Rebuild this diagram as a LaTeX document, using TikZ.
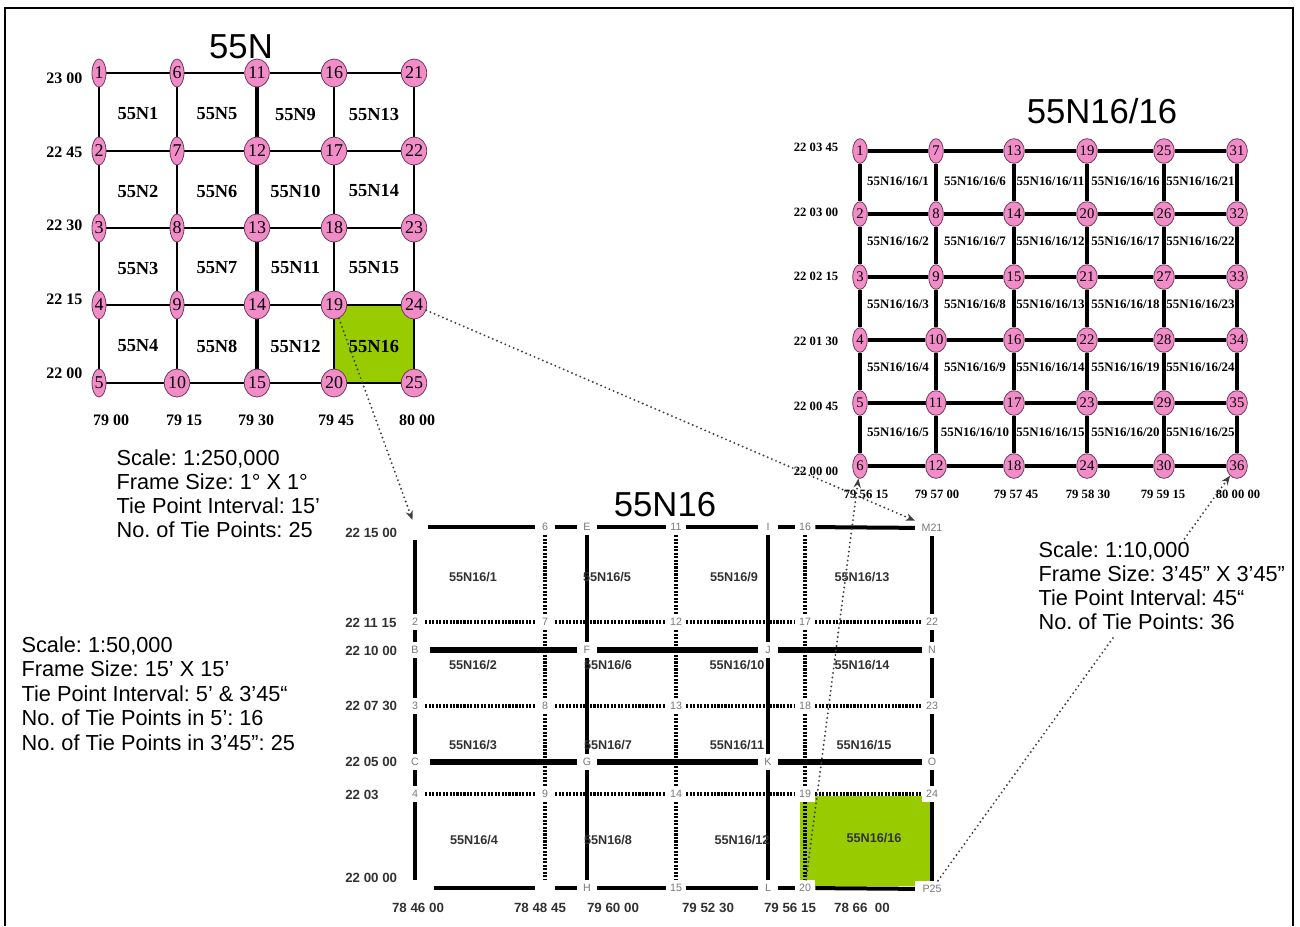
\documentclass[tikz,border=0pt]{standalone}
\usepackage{fontspec}
\setmainfont{Liberation Serif}
\setsansfont{Liberation Sans}
\usetikzlibrary{shapes.geometric,arrows.meta}
\pgfdeclarelayer{background}
\pgfsetlayers{background,main}
\definecolor{pinkf}{RGB}{242,140,200}
\definecolor{pinkd}{RGB}{110,60,90}
\definecolor{leaf}{RGB}{153,204,0}
\definecolor{labgray}{RGB}{120,120,120}
\definecolor{txtgray}{RGB}{50,50,50}
\begin{document}
\frenchspacing
\begin{tikzpicture}[x=0.75pt,y=-0.75pt,
  bigpt/.style={ellipse,draw=pinkd,line width=0.6pt,fill=pinkf,inner sep=0pt,minimum height=21pt,minimum width=10.5pt,font=\fontsize{13.5}{14}\selectfont},
  smallpt/.style={ellipse,draw=pinkd,line width=0.6pt,fill=pinkf,inner sep=0pt,minimum height=18.5pt,minimum width=11pt,font=\fontsize{11}{12}\selectfont},
  cellA/.style={font=\bfseries\fontsize{13.8}{14}\selectfont},
  cellB/.style={font=\bfseries\fontsize{9.7}{10}\selectfont,inner sep=0pt},
  cellC/.style={font=\sffamily\bfseries\fontsize{9.5}{10}\selectfont,text=txtgray},
  latA/.style={font=\bfseries\fontsize{12}{12}\selectfont},
  latB/.style={font=\bfseries\fontsize{9.5}{10}\selectfont},
  latC/.style={font=\sffamily\bfseries\fontsize{10}{11}\selectfont,text=txtgray},
  ttl/.style={font=\sffamily\fontsize{26}{28}\selectfont},
  infoline/.style={font=\sffamily\fontsize{16.3}{18}\selectfont,anchor=base west,inner sep=1pt,text height=12pt,text depth=4pt},
  ptlab/.style={fill=white,inner sep=0pt,minimum width=15pt,minimum height=12pt,font=\sffamily\fontsize{8}{9}\selectfont,text=labgray},
  lnA/.style={line width=1.6pt},
  lnB/.style={line width=2.6pt},
  sol/.style={line width=2.8pt},
  dotln/.style={line width=2.3pt,dash pattern=on 1.6pt off 1pt},
  conn/.style={draw=black!75,line width=1.6pt,line cap=round,dash pattern=on 0pt off 3.4pt,-{Stealth[length=7pt,width=5.5pt]}}
]
\useasboundingbox (0,0) rectangle (1300,926);

% outer frame
\draw[line width=1.8pt] (5,926) -- (5,8) -- (1293,8) -- (1293,926);

% ================= 55N =================
\node[ttl] (t55) at (241,47) {55N};
\foreach \c/\x in {0/99,1/177,2/257,3/334,4/414}{
  \foreach \r/\y in {0/73,1/151,2/228,3/305,4/383}{
    \pgfmathtruncatemacro\k{\c*5+\r+1}
    \node[bigpt] (a\k) at (\x,\y) {\k};
  }
}
\begin{pgfonlayer}{background}
  \fill[leaf] (a19.center) rectangle (a25.center);
  \draw[line width=2.2pt,black!70] (a19.center) rectangle (a25.center);
  \foreach \c in {0,...,3}{
    \foreach \r in {1,...,5}{
      \pgfmathtruncatemacro\p{\c*5+\r}
      \pgfmathtruncatemacro\q{\p+5}
      \draw[lnA] (a\p) -- (a\q);
    }
  }
  \foreach \c in {0,...,4}{
    \foreach \r in {1,...,4}{
      \pgfmathtruncatemacro\p{\c*5+\r}
      \pgfmathtruncatemacro\q{\p+1}
      \pgfmathsetmacro\lw{\c==2 ? 3 : 1.6}
      \draw[line width=\lw pt] (a\p) -- (a\q);
    }
  }
\end{pgfonlayer}
\foreach \c/\x in {0/138,1/217,2/295.5,3/374}{
  \foreach \r/\y in {0/114,1/191,2/268,3/346}{
    \pgfmathtruncatemacro\k{\c*4+\r+1}
    \node[cellA] (c\k) at (\x,\y) {55N\k};
  }
}
\foreach \n/\y/\t in {1/78/23 00,2/152/22 45,3/225/22 30,4/299/22 15,5/373/22 00}
  \node[latA,anchor=east] (la\n) at (87,\y) {\t};
\foreach \n/\x/\t in {1/111/79 00,2/184/79 15,3/256/79 30,4/336/79 45,5/417/80 00}
  \node[latA] (lo\n) at (\x,420) {\t};

% ================= 55N16/16 =================
\node[ttl] (t1616) at (1102,111) {55N16/16};
\foreach \c/\x in {0/860,1/936,2/1014,3/1087,4/1164,5/1237}{
  \foreach \r/\y in {0/151,1/214,2/277,3/340,4/403,5/466}{
    \pgfmathtruncatemacro\k{\c*6+\r+1}
    \node[smallpt] (b\k) at (\x,\y) {\k};
  }
}
\begin{pgfonlayer}{background}
  \foreach \c in {0,...,4}{
    \foreach \r in {1,...,6}{
      \pgfmathtruncatemacro\p{\c*6+\r}
      \pgfmathtruncatemacro\q{\p+6}
      \draw[lnB] (b\p) -- (b\q);
    }
  }
  \foreach \c in {0,...,5}{
    \foreach \r in {1,...,5}{
      \pgfmathtruncatemacro\p{\c*6+\r}
      \pgfmathtruncatemacro\q{\p+1}
      \draw[lnB] (b\p) -- (b\q);
    }
  }
\end{pgfonlayer}
\foreach \c/\x in {0/898,1/975,2/1050.5,3/1125.5,4/1200.5}{
  \foreach \r/\y in {0/181,1/241,2/304,3/367.5,4/432}{
    \pgfmathtruncatemacro\k{\c*5+\r+1}
    \node[cellB] (d\k) at (\x,\y) {55N16/16/\k};
  }
}
\foreach \n/\y/\t in {1/147.5/22 03 45,2/212.5/22 03 00,3/276/22 02 15,4/341/22 01 30,5/406/22 00 45,6/471/22 00 00}
  \node[latB] (lb\n) at (816,\y) {\t};
\foreach \n/\x/\t in {1/866/79 56 15,2/937/79 57 00,3/1016/79 57 45,4/1088/79 58 30,5/1163/79 59 15,6/1238/80 00 00}
  \node[latB] (ob\n) at (\x,494) {\t};

% ================= 55N16 =================
\node[ttl] (t16) at (665,505) {55N16};
\begin{pgfonlayer}{background}
  \fill[leaf] (800,796) rectangle (933,886);
\end{pgfonlayer}
\node[ptlab,minimum width=19.5pt,minimum height=19.5pt] (p1) at (415,527) {};
\node[ptlab,minimum width=28pt] (p5) at (415,888) {};
\node[ptlab] (p10) at (545,888) {};
\node[ptlab,minimum width=25pt] (p21) at (932,528) {M21};
\node[ptlab,minimum width=25pt] (p25) at (932,889) {P25};
\foreach \n/\x/\y/\t in {p2/415/622/2,p3/415/706/3,p4/415/794/4,
  p6/545/527/6,p7/545/622/7,p8/545/706/8,p9/545/794/9,
  p11/676/527/11,p12/676/622/12,p13/676/706/13,p14/676/794/14,p15/676/888/15,
  p16/805/527/16,p17/805/622/17,p18/805/706/18,p19/805/794/19,p20/805/888/20,
  p22/932/622/22,p23/932/706/23,p24/932/794/24,
  qE/587/527/E,qF/587/650/F,qG/587/762/G,qH/587/888/H,
  qI/768/527/I,qJ/768/650/J,qK/768/762/K,qL/768/888/L,
  qN/932/650/N,qO/932/762/O}
  \node[ptlab] (\n) at (\x,\y) {\t};
\node[ptlab,minimum width=22pt] (qB) at (415,650) {B};
\node[ptlab,minimum width=22pt] (qC) at (415,762) {C};

\begin{pgfonlayer}{background}
  \foreach \a/\b in {p1/p6,p6/qE,qE/p11,p11/qI,qI/p16,p16/p21,
                     p5/p10,p10/qH,qH/p15,p15/qL,qL/p20,p20/p25}
    \draw[line width=3pt] (\a) -- (\b);
  \foreach \a/\b in {p1/p2,p2/qB,qB/p3,p3/qC,qC/p4,p4/p5,
                     p21/p22,p22/qN,qN/p23,p23/qO,qO/p24,p24/p25,
                     qE/qF,qF/qG,qG/qH,qI/qJ,qJ/qK,qK/qL}
    \draw[sol] (\a) -- (\b);
  \foreach \a/\b in {qB/qF,qF/qJ,qJ/qN}
    \draw[line width=4.5pt] (\a) -- (\b);
  \foreach \a/\b in {qC/qG,qG/qK,qK/qO}
    \draw[line width=5.2pt] (\a) -- (\b);
  \foreach \a/\b in {p2/p7,p7/p12,p12/p17,p17/p22,
                     p3/p8,p8/p13,p13/p18,p18/p23,
                     p4/p9,p9/p14,p14/p19,p19/p24,
                     p6/p7,p7/p8,p8/p9,p9/p10,
                     p11/p12,p12/p13,p13/p14,p14/p15,
                     p16/p17,p17/p18,p18/p19,p19/p20}
    \draw[dotln] (\a) -- (\b);
\end{pgfonlayer}

\foreach \k/\x/\y in {1/473/577,2/473/665,3/473/745,4/474/840,
                      5/607/577,6/608/665,7/608/745,8/608/840,
                      9/734/577,10/737/665,11/737/745,12/742/840,
                      13/862/577,14/862/665,15/864/745,16/874/838}
  \node[cellC] (e\k) at (\x,\y) {55N16/\k};

\foreach \n/\y/\t in {1/533/22 15 00,2/623/22 11 15,3/651/22 10 00,4/706/22 07 30,5/762/22 05 00,6/795/22 03,7/878/22 00 00}
  \node[latC,anchor=west,inner sep=0pt] (lc\n) at (345,\y) {\t};
\foreach \n/\x/\t in {1/418/78 46 00,2/540/78 48 45,3/613/79 60 00,4/708/79 52 30,5/790/79 56 15,6/862/78 66\ \ 00}
  \node[latC] (oc\n) at (\x,907.5) {\t};

% ================= dotted connectors =================
\draw[conn,shorten >=-5pt] (a19) -- (p1);
\draw[conn] (a24) -- (p21);
\draw[conn] (p20) -- (b6);
\draw[conn] (p25) -- (b36);

% ================= info texts =================
\node[infoline] (i11) at (115,465) {Scale: 1:250,000};
\node[infoline] (i12) at (115,489) {Frame Size: 1° X 1°};
\node[infoline] (i13) at (115,513) {Tie Point Interval: 15’};
\node[infoline] (i14) at (115,537) {No. of Tie Points: 25};

\node[infoline] (i21) at (20,652) {Scale: 1:50,000};
\node[infoline] (i22) at (20,676.5) {Frame Size: 15’ X 15’};
\node[infoline] (i23) at (20,701) {Tie Point Interval: 5’ \& 3’45“};
\node[infoline] (i24) at (20,725.5) {No. of Tie Points in 5’: 16};
\node[infoline] (i25) at (20,750) {No. of Tie Points in 3’45”: 25};

\node[infoline,fill=white] (i31) at (1037,557) {Scale: 1:10,000};
\node[infoline,fill=white] (i32) at (1037,581) {Frame Size: 3’45” X 3’45”};
\node[infoline,fill=white] (i33) at (1037,605) {Tie Point Interval: 45“};
\node[infoline,fill=white] (i34) at (1037,629) {No. of Tie Points: 36};
\end{tikzpicture}
\end{document}
